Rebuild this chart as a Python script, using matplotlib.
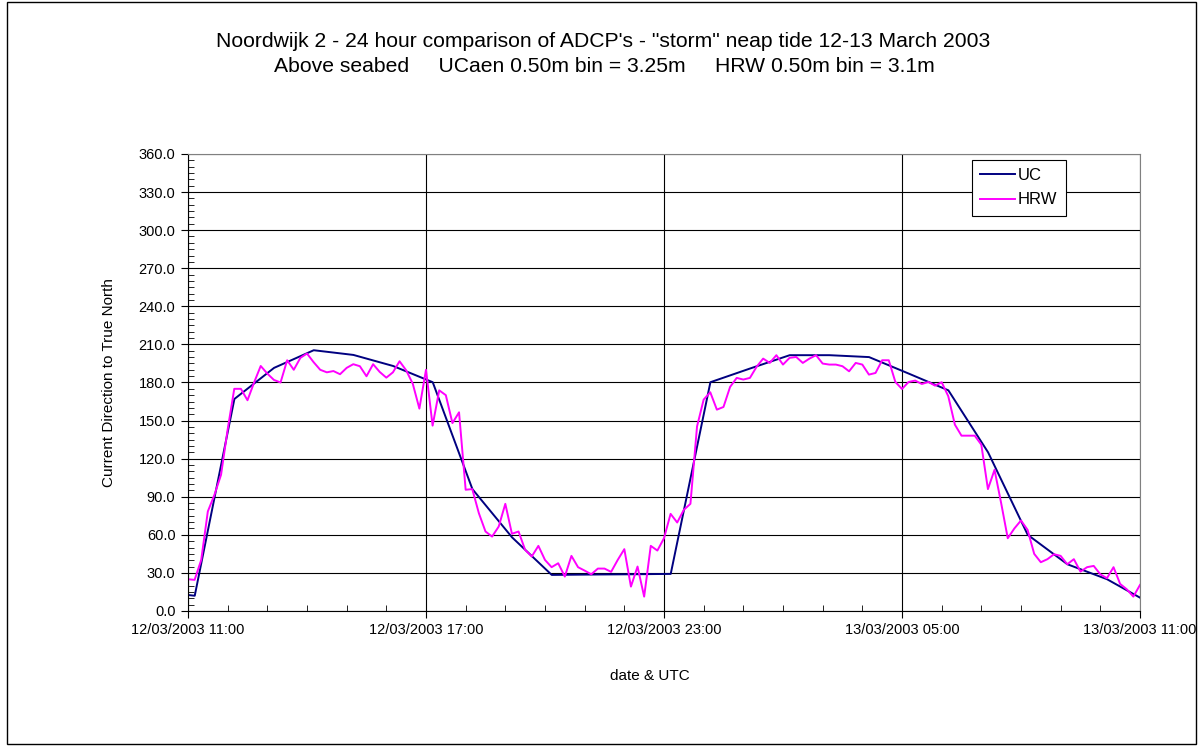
import pandas as pd
import numpy as np
import matplotlib
matplotlib.use('Agg')
import matplotlib.pyplot as plt
import matplotlib.dates as mdates
from matplotlib.ticker import MultipleLocator, FormatStrFormatter
from matplotlib.patches import Rectangle

plt.rcParams['font.family'] = ['Liberation Sans', 'DejaVu Sans']

# UCaen ADCP - hours after 12/03/2003 11:00
uc_hours = [0, 0.17, 1.17, 2.17, 3.17, 4.17, 5.17, 6.17, 7.17, 8.17, 9.17, 10.17, 11.17,
            12.17, 13.17, 14.17, 15.17, 16.17, 17.17, 18.17, 19.17, 20.17, 21.17, 22.17,
            23.17, 24]
uc_dir = [12.6, 12.0, 167.0, 191.5, 205.4, 201.7, 193.0, 180.2, 96.0, 58.0, 28.4, 28.7, 28.9,
          29.2, 180.2, 191.0, 201.5, 201.5, 200.0, 187.0, 173.8, 125.0, 60.0, 36.8,
          25.0, 10.5]

# HRW ADCP - 10 minute samples from 12/03/2003 11:00
hrw_dir = [25.0, 24.5, 40.2, 78.4, 91.5, 107.3, 143.0, 175.0, 175.0, 166.0,
           180.0, 193.0, 187.0, 182.0, 180.0, 197.5, 190.0, 199.4, 202.8, 196.0,
           190.0, 188.0, 189.0, 186.5, 191.5, 194.4, 192.8, 184.9, 194.4, 188.3,
           183.8, 188.0, 196.7, 189.6, 179.0, 159.4, 190.0, 146.0, 173.8, 170.0,
           148.0, 156.5, 95.5, 96.0, 77.0, 62.6, 58.6, 66.5, 84.4, 60.8,
           62.6, 48.1, 42.9, 51.3, 40.2, 34.5, 37.6, 27.1, 43.4, 34.5,
           31.8, 28.9, 33.4, 33.4, 30.8, 40.2, 48.7, 19.2, 35.0, 11.3,
           51.3, 47.6, 57.3, 76.5, 69.7, 79.7, 84.4, 145.4, 166.5, 172.3,
           158.6, 160.7, 176.5, 183.6, 182.3, 183.6, 192.3, 198.8, 195.4, 201.5,
           194.1, 199.4, 200.1, 195.4, 198.8, 201.5, 194.9, 194.1, 194.1, 192.8,
           188.8, 195.4, 194.1, 186.2, 187.5, 197.5, 197.5, 180.4, 174.9, 180.4,
           181.5, 178.8, 180.4, 177.5, 180.2, 169.2, 146.8, 138.1, 138.1, 138.1,
           131.0, 96.0, 111.2, 85.0, 57.3, 65.0, 71.3, 63.9, 45.0, 38.4,
           40.8, 44.7, 43.4, 36.8, 40.8, 31.0, 34.5, 35.5, 28.9, 25.8,
           34.5, 21.3, 17.1, 11.3, 20.5]

start = pd.Timestamp('2003-03-12 11:00')
end = start + pd.Timedelta(hours=24)
hrw_time = pd.date_range(start, periods=len(hrw_dir), freq='10min').to_pydatetime()
uc_time = (start + pd.to_timedelta(uc_hours, unit='h')).to_pydatetime()

fig = plt.figure(figsize=(12.02, 7.46), dpi=100)
ax = fig.add_axes([0.1564, 0.181, 0.792, 0.6126])

ax.plot(uc_time, uc_dir, color='#000080', lw=1.4, label='UC')
ax.plot(hrw_time, hrw_dir, color='#FF00FF', lw=1.4, label='HRW')

ax.set_xlim(start.to_pydatetime(), end.to_pydatetime())
ax.set_ylim(0, 360)
ax.yaxis.set_major_locator(MultipleLocator(30))
ax.yaxis.set_minor_locator(MultipleLocator(5))
ax.yaxis.set_major_formatter(FormatStrFormatter('%.1f'))
ax.xaxis.set_major_locator(mdates.HourLocator(byhour=[5, 11, 17, 23]))
ax.xaxis.set_minor_locator(mdates.HourLocator())
ax.xaxis.set_major_formatter(mdates.DateFormatter('%d/%m/%Y %H:%M'))

ax.grid(which='major', color='black', lw=0.8)
ax.tick_params(which='major', direction='out', length=5, labelsize=10.5, pad=4)
ax.tick_params(which='minor', direction='in', length=4)
for side in ['top', 'right']:
    ax.spines[side].set_color('#808080')

ax.set_ylabel('Current Direction to True North', fontsize=11, labelpad=16)
fig.text(0.5408, 0.094, 'date & UTC', ha='center', va='center', fontsize=11)

fig.text(0.502, 0.945, 'Noordwijk 2 - 24 hour comparison of ADCP\'s - "storm" neap tide 12-13 March 2003',
         ha='center', va='center', fontsize=15.2)
fig.text(0.503, 0.9115, 'Above seabed     UCaen 0.50m bin = 3.25m     HRW 0.50m bin = 3.1m',
         ha='center', va='center', fontsize=15.2)

leg = ax.legend(loc='upper left', bbox_to_anchor=(0.8235, 0.987), fancybox=False,
                edgecolor='black', framealpha=1, borderaxespad=0, fontsize=12,
                handlelength=2.1, handletextpad=0.15, borderpad=0.5, labelspacing=0.55)
leg.get_frame().set_linewidth(0.8)

fig.patches.append(Rectangle((0.006, 0.003), 0.989, 0.994, transform=fig.transFigure,
                             fill=False, ec='black', lw=1))

fig.savefig('out.png', dpi=100)
